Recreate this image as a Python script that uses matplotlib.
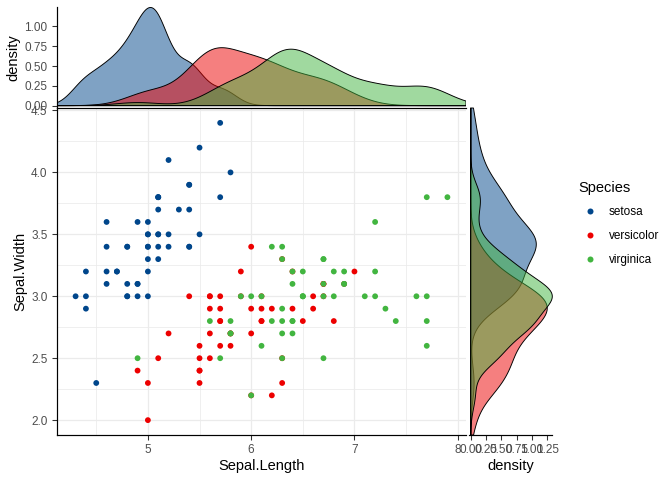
import numpy as np
import matplotlib
matplotlib.use("Agg")
import matplotlib.pyplot as plt
from matplotlib.lines import Line2D

plt.rcParams['font.family'] = ['Liberation Sans', 'DejaVu Sans']

# ---------------------------------------------------------
# Data: iris sepal measurements by species
# ---------------------------------------------------------
species = ["setosa", "versicolor", "virginica"]
colors = ["#00468B", "#ED0000", "#42B540"]

setosa_length = [5.1, 4.9, 4.7, 4.6, 5.0, 5.4, 4.6, 5.0, 4.4, 4.9, 5.4, 4.8, 4.8, 4.3, 5.8,
                 5.7, 5.4, 5.1, 5.7, 5.1, 5.4, 5.1, 4.6, 5.1, 4.8, 5.0, 5.0, 5.2, 5.2, 4.7,
                 4.8, 5.4, 5.2, 5.5, 4.9, 5.0, 5.5, 4.9, 4.4, 5.1, 5.0, 4.5, 4.4, 5.0, 5.1,
                 4.8, 5.1, 4.6, 5.3, 5.0]
setosa_width = [3.5, 3.0, 3.2, 3.1, 3.6, 3.9, 3.4, 3.4, 2.9, 3.1, 3.7, 3.4, 3.0, 3.0, 4.0,
                4.4, 3.9, 3.5, 3.8, 3.8, 3.4, 3.7, 3.6, 3.3, 3.4, 3.0, 3.4, 3.5, 3.4, 3.2,
                3.1, 3.4, 4.1, 4.2, 3.1, 3.2, 3.5, 3.6, 3.0, 3.4, 3.5, 2.3, 3.2, 3.5, 3.8,
                3.0, 3.8, 3.2, 3.7, 3.3]
versicolor_length = [7.0, 6.4, 6.9, 5.5, 6.5, 5.7, 6.3, 4.9, 6.6, 5.2, 5.0, 5.9, 6.0, 6.1, 5.6,
                     6.7, 5.6, 5.8, 6.2, 5.6, 5.9, 6.1, 6.3, 6.1, 6.4, 6.6, 6.8, 6.7, 6.0, 5.7,
                     5.5, 5.5, 5.8, 6.0, 5.4, 6.0, 6.7, 6.3, 5.6, 5.5, 5.5, 6.1, 5.8, 5.0, 5.6,
                     5.7, 5.7, 6.2, 5.1, 5.7]
versicolor_width = [3.2, 3.2, 3.1, 2.3, 2.8, 2.8, 3.3, 2.4, 2.9, 2.7, 2.0, 3.0, 2.2, 2.9, 2.9,
                    3.1, 3.0, 2.7, 2.2, 2.5, 3.2, 2.8, 2.5, 2.8, 2.9, 3.0, 2.8, 3.0, 2.9, 2.6,
                    2.4, 2.4, 2.7, 2.7, 3.0, 3.4, 3.1, 2.3, 3.0, 2.5, 2.6, 3.0, 2.6, 2.3, 2.7,
                    3.0, 2.9, 2.9, 2.5, 2.8]
virginica_length = [6.3, 5.8, 7.1, 6.3, 6.5, 7.6, 4.9, 7.3, 6.7, 7.2, 6.5, 6.4, 6.8, 5.7, 5.8,
                    6.4, 6.5, 7.7, 7.7, 6.0, 6.9, 5.6, 7.7, 6.3, 6.7, 7.2, 6.2, 6.1, 6.4, 7.2,
                    7.4, 7.9, 6.4, 6.3, 6.1, 7.7, 6.3, 6.4, 6.0, 6.9, 6.7, 6.9, 5.8, 6.8, 6.7,
                    6.7, 6.3, 6.5, 6.2, 5.9]
virginica_width = [3.3, 2.7, 3.0, 2.9, 3.0, 3.0, 2.5, 2.9, 2.5, 3.6, 3.2, 2.7, 3.0, 2.5, 2.8,
                   3.2, 3.0, 3.8, 2.6, 2.2, 3.2, 2.8, 2.8, 2.7, 3.3, 3.2, 2.8, 3.0, 2.8, 3.0,
                   2.8, 3.8, 2.8, 2.8, 2.6, 3.0, 3.4, 3.1, 3.0, 3.1, 3.1, 3.1, 2.7, 3.2, 3.3,
                   3.0, 2.5, 3.0, 3.4, 3.0]

lengths = [setosa_length, versicolor_length, virginica_length]
widths = [setosa_width, versicolor_width, virginica_width]

x_ticks = [5, 6, 7, 8]
y_ticks = [2.0, 2.5, 3.0, 3.5, 4.0, 4.5]
dens_ticks = [0.00, 0.25, 0.50, 0.75, 1.00, 1.25]


# Gaussian KDE with R's bw.nrd0 bandwidth (like geom_density)
def kde(values, grid):
    v = np.asarray(values, dtype=float)
    sd = v.std(ddof=1)
    iqr = np.percentile(v, 75) - np.percentile(v, 25)
    bw = 0.9 * min(sd, iqr / 1.34) * len(v) ** -0.2
    z = (grid[:, None] - v[None, :]) / bw
    return np.exp(-0.5 * z ** 2).sum(axis=1) / (len(v) * bw * np.sqrt(2 * np.pi))


all_x = np.concatenate(lengths)
all_y = np.concatenate(widths)
xpad = 0.05 * (all_x.max() - all_x.min())
ypad = 0.05 * (all_y.max() - all_y.min())
xlim = (all_x.min() - xpad, all_x.max() + xpad)
ylim = (all_y.min() - ypad, all_y.max() + ypad)
xgrid = np.linspace(xlim[0], xlim[1], 512)
ygrid = np.linspace(ylim[0], ylim[1], 512)

# ---------------------------------------------------------
# Layout
# ---------------------------------------------------------
W, H = 672, 480
fig = plt.figure(figsize=(W / 96, H / 96), dpi=96)


def px_axes(x0, y0, x1, y1):
    return fig.add_axes([x0 / W, 1 - y1 / H, (x1 - x0) / W, (y1 - y0) / H])


ax = px_axes(57, 108, 466, 435)
ax_top = px_axes(57, 7, 466, 108)
ax_right = px_axes(469, 108, 552, 435)

tick_kw = dict(labelsize=8.8, labelcolor="#4D4D4D", color="#333333", length=3.5, width=0.8)

# main scatter
for i, sp in enumerate(species):
    ax.scatter(lengths[i], widths[i], s=19, color=colors[i], edgecolors="none", zorder=3)
ax.set_xlim(xlim)
ax.set_ylim(ylim)
ax.set_xticks(x_ticks)
ax.set_xticks([4.5, 5.5, 6.5, 7.5], minor=True)
ax.set_yticks(y_ticks)
ax.set_yticklabels([f"{t:.1f}" for t in y_ticks])
ax.set_yticks([2.25, 2.75, 3.25, 3.75, 4.25], minor=True)
ax.grid(which="major", color="#EBEBEB", linewidth=0.9)
ax.grid(which="minor", color="#EBEBEB", linewidth=0.6)
ax.set_axisbelow(True)
ax.tick_params(which="major", **tick_kw)
ax.tick_params(which="minor", length=0)
for s in ["top", "right"]:
    ax.spines[s].set_visible(False)
for s in ["left", "bottom"]:
    ax.spines[s].set_linewidth(0.9)
ax.set_xlabel("Sepal.Length", fontsize=11, labelpad=2)
ax.set_ylabel("Sepal.Width", fontsize=11, labelpad=3)

# top marginal density
top_max = 0
for i, sp in enumerate(species):
    d = kde(lengths[i], xgrid)
    top_max = max(top_max, d.max())
    ax_top.fill(np.r_[xgrid[0], xgrid, xgrid[-1]], np.r_[0, d, 0], facecolor=colors[i],
                alpha=0.5, edgecolor="none")
    ax_top.fill(np.r_[xgrid[0], xgrid, xgrid[-1]], np.r_[0, d, 0], facecolor="none",
                edgecolor="black", linewidth=0.7)
ax_top.set_xlim(xlim)
ax_top.set_ylim(-0.03, top_max * 1.005)
ax_top.set_yticks(dens_ticks[:-1])
ax_top.set_yticklabels([f"{t:.2f}" for t in dens_ticks[:-1]])
ax_top.set_xticks([])
ax_top.tick_params(axis="y", **tick_kw)
for s in ["top", "right"]:
    ax_top.spines[s].set_visible(False)
for s in ["left", "bottom"]:
    ax_top.spines[s].set_linewidth(0.9)
ax_top.set_ylabel("density", fontsize=11, labelpad=3)

# right marginal density
right_max = 0
for i, sp in enumerate(species):
    d = kde(widths[i], ygrid)
    right_max = max(right_max, d.max())
    ax_right.fill(np.r_[0, d, 0], np.r_[ygrid[0], ygrid, ygrid[-1]], facecolor=colors[i],
                  alpha=0.5, edgecolor="none", clip_on=False)
    ax_right.fill(np.r_[0, d, 0], np.r_[ygrid[0], ygrid, ygrid[-1]], facecolor="none",
                  edgecolor="black", linewidth=0.7, clip_on=False)
ax_right.set_ylim(ylim)
ax_right.set_xlim(-0.028, 1.328)
ax_right.set_xticks(dens_ticks)
ax_right.set_xticklabels([f"{t:.2f}" for t in dens_ticks])
ax_right.set_yticks([])
ax_right.tick_params(axis="x", **tick_kw)
for s in ["top", "right", "left"]:
    ax_right.spines[s].set_visible(False)
ax_right.spines["bottom"].set_linewidth(0.9)
ax_right.set_xlabel("density", fontsize=11, labelpad=2)

# legend
handles = [Line2D([], [], marker="o", linestyle="none", markersize=4.5, color=c,
                  markeredgewidth=0) for c in colors]
fig.legend(handles, species, title="Species", loc="upper left",
           bbox_to_anchor=(568 / W, 1 - 170 / H), frameon=False, fontsize=8.8,
           title_fontsize=11, handletextpad=0.6, labelspacing=1.0, alignment="left")

fig.savefig("out.png", dpi=96)
